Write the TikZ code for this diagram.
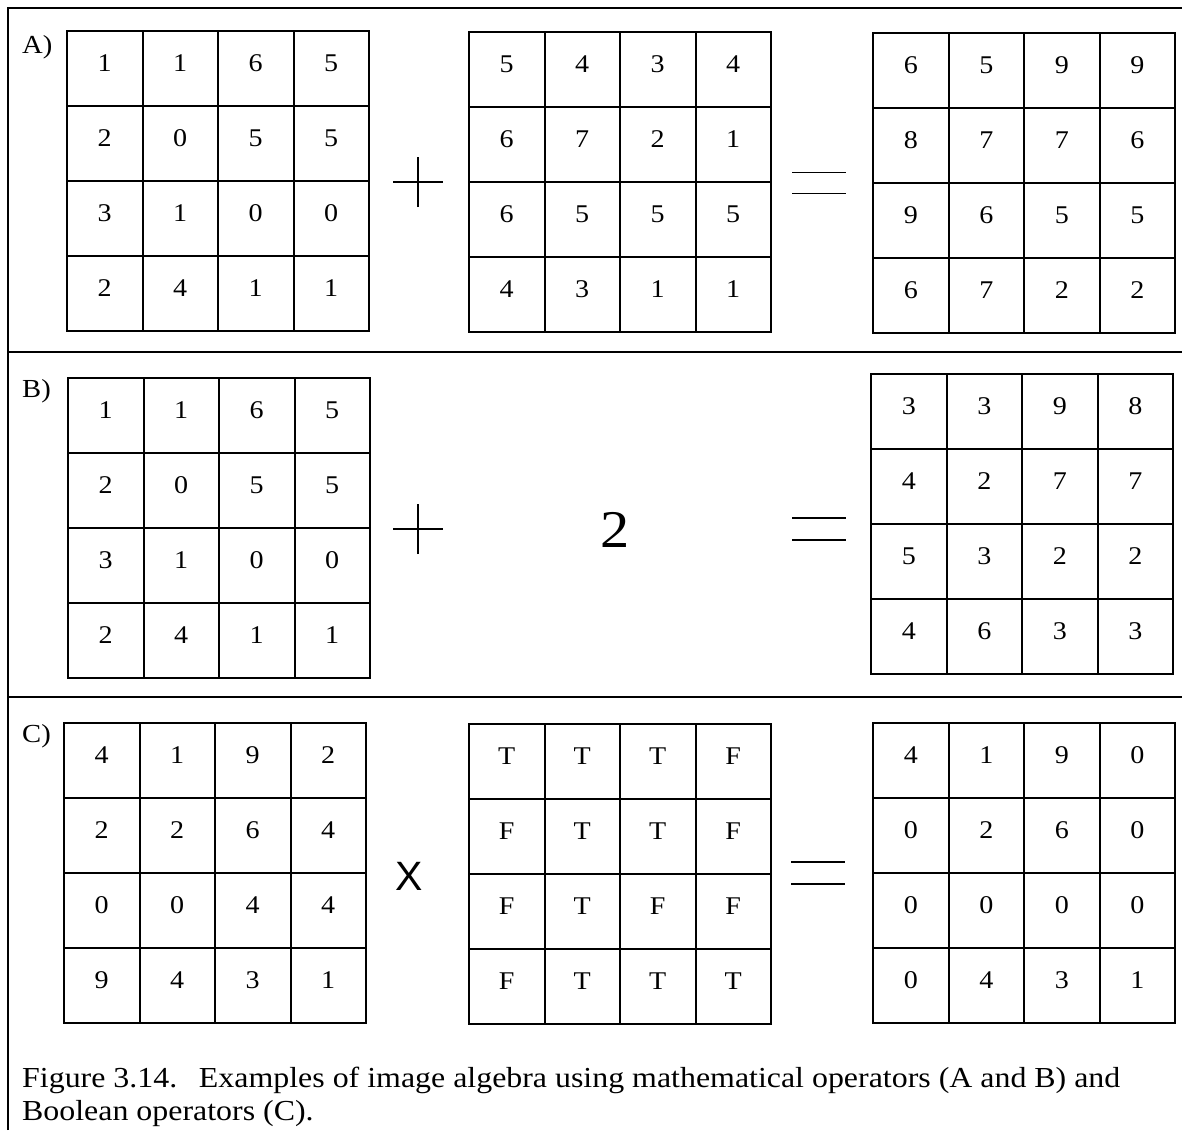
\documentclass[tikz,border=0pt]{standalone}
\usepackage{fontspec}
\setmainfont[FakeStretch=1.1]{Liberation Serif}
\newfontfamily\opsans{Liberation Sans}

\tikzset{
  cellbox/.style={draw, line width=2pt, minimum width=75.5pt, minimum height=75pt,
    inner sep=0pt, anchor=north west, text height=17pt, text depth=12pt,
    font=\rmfamily\fontsize{25.5}{29}\selectfont},
  frameline/.style={line width=1.6pt},
  opline/.style={line width=2pt},
  eqline/.style={line width=1.7pt},
  partlabel/.style={anchor=base west, inner sep=0pt, font=\rmfamily\fontsize{26}{30}\selectfont},
}

% a 4x4 image grid: name, left x, top y, sixteen entries row by row
\newcommand\cellgrid[4]{%
  \foreach \val [count=\k from 0] in {#4} {
    \pgfmathtruncatemacro\rowi{int(\k/4)}
    \pgfmathtruncatemacro\coli{mod(\k,4)}
    \node[cellbox] (#1-\rowi-\coli) at ({#2+\coli*75.5},{#3+\rowi*75}) {\val};
  }%
}

\begin{document}
\begin{tikzpicture}[x=1pt, y=-1pt]
\useasboundingbox (0,0) rectangle (1182,1130);

% panel frame
\coordinate (frameBL) at (8,1130);
\coordinate (frameTL) at (8,8);
\coordinate (frameTR) at (1182,8);
\coordinate (sepAL) at (8,352);  \coordinate (sepAR) at (1182,352);
\coordinate (sepBL) at (8,697);  \coordinate (sepBR) at (1182,697);
\draw[frameline] (frameBL) -- (frameTL) -- (frameTR);
\draw[frameline] (sepAL) -- (sepAR);
\draw[frameline] (sepBL) -- (sepBR);

% panel labels
\node[partlabel] (labA) at (22,53) {A)};
\node[partlabel] (labB) at (22,397) {B)};
\node[partlabel] (labC) at (22,742) {C)};

% A) image + image = image
\cellgrid{a1}{66}{30}{1,1,6,5, 2,0,5,5, 3,1,0,0, 2,4,1,1}
\cellgrid{a2}{468}{31}{5,4,3,4, 6,7,2,1, 6,5,5,5, 4,3,1,1}
\cellgrid{a3}{872}{32}{6,5,9,9, 8,7,7,6, 9,6,5,5, 6,7,2,2}

\coordinate (plusA) at (418,182);
\draw[opline] ([xshift=-25pt]plusA) -- ([xshift=25pt]plusA);
\draw[opline] ([yshift=-25pt]plusA) -- ([yshift=25pt]plusA);
\coordinate (eqA) at (819,183);
\draw[eqline] ([shift={(-27pt,-10.5pt)}]eqA) -- ([shift={(27pt,-10.5pt)}]eqA);
\draw[eqline] ([shift={(-27pt,10.5pt)}]eqA) -- ([shift={(27pt,10.5pt)}]eqA);

% B) image + constant = image
\cellgrid{b1}{67}{377}{1,1,6,5, 2,0,5,5, 3,1,0,0, 2,4,1,1}
\node[inner sep=0pt, font=\rmfamily\fontsize{53}{56}\selectfont] (constB) at (615,530) {2};
\cellgrid{b3}{870}{373}{3,3,9,8, 4,2,7,7, 5,3,2,2, 4,6,3,3}

\coordinate (plusB) at (418,529);
\draw[opline] ([xshift=-25pt]plusB) -- ([xshift=25pt]plusB);
\draw[opline] ([yshift=-25pt]plusB) -- ([yshift=25pt]plusB);
\coordinate (eqB) at (819,529);
\draw[eqline] ([shift={(-27pt,-11pt)}]eqB) -- ([shift={(27pt,-11pt)}]eqB);
\draw[eqline] ([shift={(-27pt,11pt)}]eqB) -- ([shift={(27pt,11pt)}]eqB);

% C) image x Boolean mask = image
\cellgrid{c1}{63}{722}{4,1,9,2, 2,2,6,4, 0,0,4,4, 9,4,3,1}
\cellgrid{c2}{468}{723}{T,T,T,F, F,T,T,F, F,T,F,F, F,T,T,T}
\cellgrid{c3}{872}{722}{4,1,9,0, 0,2,6,0, 0,0,0,0, 0,4,3,1}

\node[inner sep=0pt, font=\opsans\fontsize{41}{44}\selectfont] (timesC) at (409,876) {X};
\coordinate (eqC) at (818,873);
\draw[eqline] ([shift={(-27pt,-11pt)}]eqC) -- ([shift={(27pt,-11pt)}]eqC);
\draw[eqline] ([shift={(-27pt,11pt)}]eqC) -- ([shift={(27pt,11pt)}]eqC);

% caption (base anchor sits on the last line)
\node[anchor=base west, inner sep=0pt, align=left, font=\rmfamily\fontsize{29}{33}\selectfont] (caption) at (22,1120)
  {Figure 3.14.\hspace{0.75em}Examples of image algebra using mathematical operators (A and B) and\\
   Boolean operators (C).};
\end{tikzpicture}
\end{document}
